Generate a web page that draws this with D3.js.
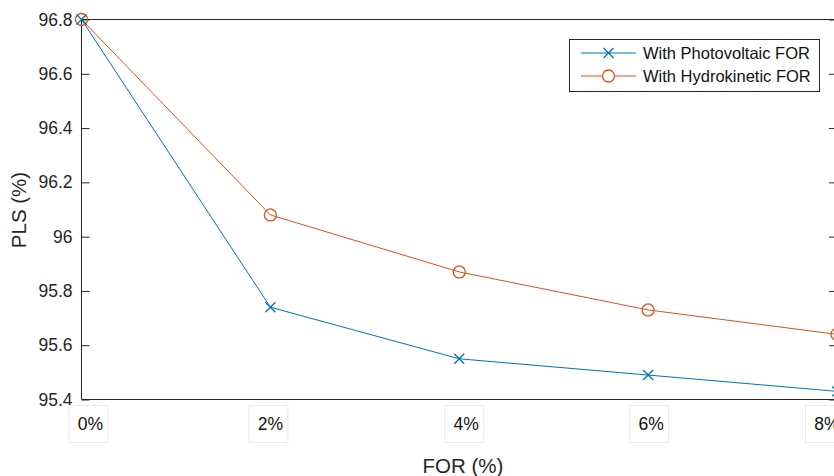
<!DOCTYPE html>
<html>
<head>
<meta charset="utf-8">
<script src="https://cdn.jsdelivr.net/npm/d3@7"></script>
<style>
  html, body { margin: 0; padding: 0; background: #fff; overflow: hidden; }
  svg { display: block; font-family: "Liberation Sans", Arial, sans-serif; }
</style>
</head>
<body>
<svg id="chart" width="834" height="476"></svg>
<script>
// ---- data ----
const categories = ["0%", "2%", "4%", "6%", "8%"];
const photovoltaic = [96.8, 95.74, 95.55, 95.49, 95.43];
const hydrokinetic = [96.8, 96.08, 95.87, 95.73, 95.64];
const yTicks = [95.4, 95.6, 95.8, 96, 96.2, 96.4, 96.6, 96.8];
const seriesNames = ["With Photovoltaic FOR", "With Hydrokinetic FOR"];

// ---- layout ----
const plotL = 81.5, plotR = 837, plotT = 19.5, plotB = 399.5;
const labelNudge = [7, -2, 5, 1, -12];
const blue = "#0072BD", orange = "#D95319", axisColor = "#262626";

const svg = d3.select("#chart");
const x = d3.scalePoint().domain(categories).range([plotL, plotR]);
const y = d3.scaleLinear().domain([95.4, 96.8]).range([plotB, plotT]);

// spines
[[plotL, plotT, plotL, plotB], [plotL, plotB, plotR, plotB], [plotL, plotT, plotR, plotT], [plotR, plotT, plotR, plotB]]
  .forEach(s => svg.append("line").attr("x1", s[0]).attr("y1", s[1]).attr("x2", s[2]).attr("y2", s[3])
    .attr("stroke", axisColor).attr("stroke-width", 1));

// y axis via d3
const yAxis = d3.axisLeft(y).tickValues(yTicks).tickSize(-8).tickPadding(9)
  .tickFormat(d => String(+d.toFixed(1)));
const gy = svg.append("g").attr("transform", `translate(${plotL},0)`).call(yAxis);
gy.select(".domain").remove();
gy.selectAll(".tick line").attr("stroke", axisColor);
gy.selectAll(".tick text").attr("fill", axisColor).attr("font-size", 17.5)
  .attr("font-family", "Liberation Sans, Arial, sans-serif");
// right ticks
const yAxisR = d3.axisRight(y).tickValues(yTicks).tickSize(-8).tickFormat("");
const gyr = svg.append("g").attr("transform", `translate(${plotR},0)`).call(yAxisR);
gyr.select(".domain").remove();
gyr.selectAll(".tick line").attr("stroke", axisColor);

// x labels in light boxes
const xl = svg.append("g").selectAll("g").data(categories).join("g")
  .attr("transform", (d, i) => `translate(${x(d) + labelNudge[i]},424)`);
xl.append("rect").attr("x", -19.5).attr("y", -18.5).attr("width", 39).attr("height", 37)
  .attr("fill", "#fff").attr("stroke", "#ebebeb").attr("stroke-width", 1);
xl.append("text").text(d => d).attr("x", 2).attr("dy", "0.35em").attr("text-anchor", "middle")
  .attr("font-size", 17.5).attr("fill", "#111");

// axis titles
svg.append("text").text("FOR (%)").attr("x", 463).attr("y", 466)
  .attr("dy", "0.35em").attr("text-anchor", "middle").attr("font-size", 20.5).attr("fill", axisColor);
svg.append("text").text("PLS (%)").attr("transform", "translate(19,210) rotate(-90)")
  .attr("dy", "0.35em").attr("text-anchor", "middle").attr("font-size", 20.5).attr("fill", axisColor);

// lines
const line = d3.line().x((d, i) => x(categories[i])).y(d => y(d));
const plot = svg.append("g");
plot.append("path").datum(hydrokinetic).attr("d", line).attr("fill", "none")
  .attr("stroke", orange).attr("stroke-width", 1);
plot.append("path").datum(photovoltaic).attr("d", line).attr("fill", "none")
  .attr("stroke", blue).attr("stroke-width", 1);

// markers
function cross(g, cx, cy, s, color) {
  g.append("path").attr("d", `M${cx - s},${cy - s}L${cx + s},${cy + s}M${cx - s},${cy + s}L${cx + s},${cy - s}`)
    .attr("stroke", color).attr("stroke-width", 1.3).attr("fill", "none");
}
plot.selectAll("circle.h").data(hydrokinetic).join("circle").attr("class", "h")
  .attr("cx", (d, i) => x(categories[i])).attr("cy", d => y(d)).attr("r", 6)
  .attr("fill", "none").attr("stroke", orange).attr("stroke-width", 1.3);
photovoltaic.forEach((d, i) => cross(plot, x(categories[i]), y(d), 5, blue));

// legend
const lg = svg.append("g");
lg.append("rect").attr("x", 569.5).attr("y", 39.5).attr("width", 250).attr("height", 52)
  .attr("fill", "#fff").attr("stroke", axisColor).attr("stroke-width", 1);
const rows = [{ name: seriesNames[0], color: blue, m: "x", yy: 53 },
              { name: seriesNames[1], color: orange, m: "o", yy: 76 }];
rows.forEach(r => {
  lg.append("line").attr("x1", 581).attr("x2", 636).attr("y1", r.yy).attr("y2", r.yy)
    .attr("stroke", r.color).attr("stroke-width", 1);
  if (r.m === "x") cross(lg, 608.5, r.yy, 5, r.color);
  else lg.append("circle").attr("cx", 608.5).attr("cy", r.yy).attr("r", 6)
    .attr("fill", "#fff").attr("stroke", r.color).attr("stroke-width", 1.3);
  lg.append("text").text(r.name).attr("x", 643).attr("y", r.yy).attr("dy", "0.35em")
    .attr("font-size", 16.5).attr("fill", "#111");
});
</script>
</body>
</html>
